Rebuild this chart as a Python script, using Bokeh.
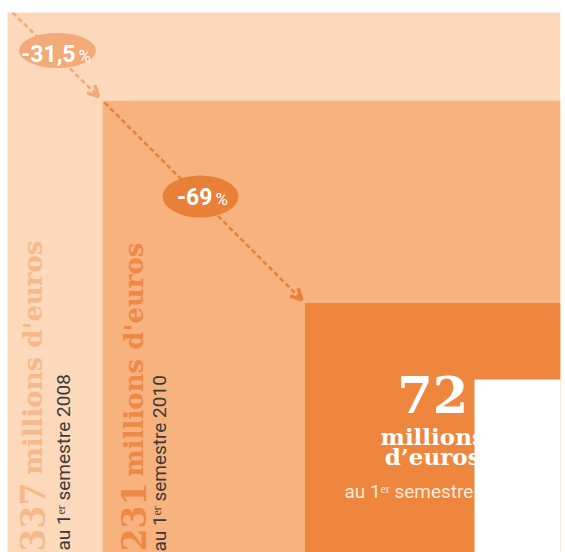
import numpy as np
from bokeh.plotting import figure
from bokeh.models import Range1d, Arrow, OpenHead
from bokeh.core.properties import value
from bokeh.embed import file_html
from bokeh.resources import INLINE

# ---- data ----
values = [337, 231, 72]
amounts = ["337", "231", "72"]
unit = "millions d'euros"
periods = ["au 1ᵉʳ semestre 2008", "au 1ᵉʳ semestre 2010", "au 1ᵉʳ semestre 2012"]
changes = ["-31,5", "-69"]

fills = ["#FCD9BA", "#F8B27E", "#EF863E"]
label_cols = ["#F5B98C", "#EE8946"]
arrow_cols = ["#F2AA78", "#E98038"]

W, H = 565, 552
TOP_PAD, RIGHT_PAD = 12, 5
SLAB = value("DejaVu Serif")
NARROW = value("Roboto")

p = figure(width=W, height=H, x_range=Range1d(0, W - RIGHT_PAD), y_range=Range1d(0, H - TOP_PAD),
           output_backend="svg", toolbar_location=None,
           min_border_left=0, min_border_bottom=0, min_border_top=TOP_PAD, min_border_right=RIGHT_PAD,
           x_axis_location=None, y_axis_location=None)
p.grid.visible = False
p.outline_line_color = None
p.background_fill_color = "white"
p.border_fill_color = "white"

def Y(ypix):
    return H - ypix

# squares: area proportional to value, anchored bottom-right
right = 560
bottom = Y(558)
scale = 553 / np.sqrt(values[0])
sides = scale * np.sqrt(np.array(values, dtype=float))
lefts = right - sides
tops = bottom + sides
p.quad(left=lefts, right=right, bottom=bottom, top=tops, fill_color=fills, line_color=None)

# vertical labels in the two large squares
num_x = [lefts[0] + 25, lefts[1] + 31]
sub_x = [lefts[0] + 56, lefts[1] + 57]
num_start = [Y(551), Y(551)]
unit_end = [Y(240), Y(242)]
sub_start = [Y(550), Y(551)]
for i in range(2):
    p.text(x=[num_x[i]], y=[num_start[i]], text=[amounts[i]], angle=np.pi / 2,
           text_font=SLAB, text_font_style="bold", text_font_size="33px",
           text_color=label_cols[i], text_align="left", text_baseline="middle")
    p.text(x=[num_x[i]], y=[unit_end[i]], text=[unit], angle=np.pi / 2,
           text_font=SLAB, text_font_style="bold", text_font_size="26px",
           text_color=label_cols[i], text_align="right", text_baseline="middle")
    p.text(x=[sub_x[i]], y=[sub_start[i]], text=[periods[i]], angle=np.pi / 2,
           text_font=NARROW, text_font_size="19px",
           text_color="#3A3A3A", text_align="left", text_baseline="middle")

# dashed arrows between square corners
starts = [(lefts[0] + 5, tops[0]), (lefts[1] + 2, tops[1] - 2)]
ends = [(lefts[1] - 4, tops[1] + 4), (lefts[2] - 3, tops[2] + 3)]
for i in range(2):
    (x0, y0), (x1, y1) = starts[i], ends[i]
    if i == 0:
        y0 = Y(TOP_PAD)
    p.segment(x0=[x0], y0=[y0], x1=[x1 - 3], y1=[y1 + 3], line_color=arrow_cols[i],
              line_width=2.5, line_dash="5 3")
    d = np.hypot(x1 - x0, y1 - y0)
    ux, uy = (x1 - x0) / d, (y1 - y0) / d
    p.add_layout(Arrow(x_start=x1 - ux * 2, y_start=y1 - uy * 2, x_end=x1, y_end=y1,
                       line_alpha=0,
                       end=OpenHead(size=11, line_color=arrow_cols[i], line_width=3.5)))

# change bubbles
ell_x = [57, 200]
ell_y = [Y(50), Y(196)]
ell_w = [77, 76]
ell_h = [35, 42]
p.ellipse(x=ell_x, y=ell_y, width=ell_w, height=ell_h, fill_color=arrow_cols, line_color=None)
pct_split = [75, 212]
pct_mid = [Y(53), Y(196)]
for i in range(2):
    p.text(x=[pct_split[i]], y=[pct_mid[i]], text=[changes[i]], text_font=NARROW,
           text_font_style="bold", text_font_size="23px", text_color="white",
           text_align="right", text_baseline="middle")
    p.text(x=[pct_split[i] + 3], y=[pct_mid[i] - 2], text=["%"], text_font=NARROW,
           text_font_size="17px", text_color="white",
           text_align="left", text_baseline="middle")

# label in the small square
cx = (lefts[2] + right) / 2
p.text(x=[cx], y=[Y(394)], text=[amounts[2]], text_font=SLAB, text_font_style="bold",
       text_font_size="51px", text_color="white", text_align="center", text_baseline="middle")
p.text(x=[cx, cx], y=[Y(436), Y(456)], text=["millions", "d’euros"], text_font=SLAB,
       text_font_style="bold", text_font_size="23px", text_color="white",
       text_align="center", text_baseline="middle")
p.text(x=[cx], y=[Y(491)], text=[periods[2]], text_font=NARROW, text_font_size="19px",
       text_color="#FDEBD9", text_align="center", text_baseline="middle")

# white cut-out at lower right (as in the source)
p.quad(left=[474], right=[W], bottom=[0], top=[Y(379)], fill_color="white", line_color=None)

open("out.html", "w").write(file_html(p, INLINE))
